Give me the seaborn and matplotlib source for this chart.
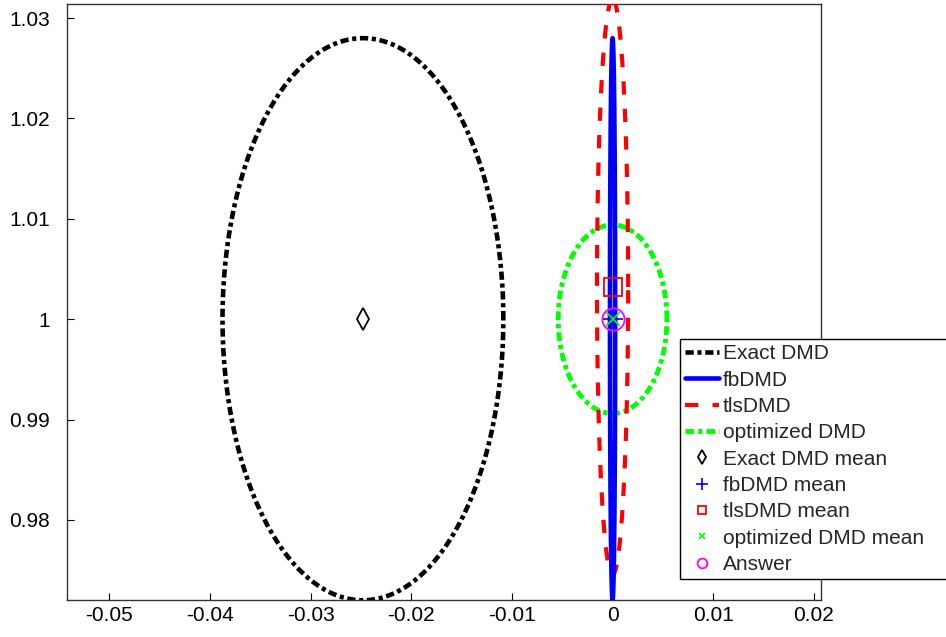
import numpy as np
import matplotlib
matplotlib.use("Agg")
import matplotlib.pyplot as plt
import seaborn as sns
import pandas as pd
from matplotlib.lines import Line2D

sns.set_theme(style="white")
plt.rcParams['font.family'] = ['Liberation Sans', 'DejaVu Sans']

# ---- data ----
methods = ["Exact DMD", "fbDMD", "tlsDMD", "optimized DMD"]
center_x = [-0.0248, 0.0, 0.0, 0.0]
center_y = [1.0, 1.0, 1.0032, 1.0]
semi_x = [0.01395, 0.00026, 0.00155, 0.0054]
semi_y = [0.028, 0.028, 0.0287, 0.0094]
colors = ["black", "blue", "red", "#00ff00"]

mean_labels = ["Exact DMD mean", "fbDMD mean", "tlsDMD mean", "optimized DMD mean", "Answer"]
mean_x = [-0.0248, 0.0, 0.0, 0.0, 0.0]
mean_y = [1.0, 1.0, 1.0032, 1.0, 1.0]
mean_colors = ["black", "blue", "red", "#00ff00", "magenta"]
mean_markers = ["d", "+", "s", "x", "o"]

x_ticks = [-0.05, -0.04, -0.03, -0.02, -0.01, 0, 0.01, 0.02]
x_ticklabels = ["-0.05", "-0.04", "-0.03", "-0.02", "-0.01", "0", "0.01", "0.02"]
y_ticks = [0.98, 0.99, 1.0, 1.01, 1.02, 1.03]
y_ticklabels = ["0.98", "0.99", "1", "1.01", "1.02", "1.03"]

# ---- styles ----
line_styles = [(0, (1.8, 0.8, 0.9, 0.8)), "-", (0, (3.2, 3.4)), (0, (1.8, 0.8, 0.9, 0.8))]
line_widths = [3.3, 3.3, 3.0, 3.5]
marker_sizes = [11, 15, 13, 10, 16]
legend_marker_sizes = [7, 8, 6, 5, 7]

fig = plt.figure(figsize=(9.46, 6.37), dpi=100)
ax = fig.add_axes([0.0708, 0.058, 0.797, 0.9357])

t = np.linspace(0, 2 * np.pi, 721)
zorders = [2, 4, 3, 2]
for i, m in enumerate(methods):
    df = pd.DataFrame({"x": center_x[i] + semi_x[i] * np.cos(t),
                       "y": center_y[i] + semi_y[i] * np.sin(t)})
    sns.lineplot(data=df, x="x", y="y", sort=False, estimator=None, ax=ax,
                 color=colors[i], linestyle=line_styles[i], lw=line_widths[i],
                 zorder=zorders[i])

for i, lab in enumerate(mean_labels):
    mk = mean_markers[i]
    if mk in ("+", "x"):
        ax.plot([mean_x[i]], [mean_y[i]], marker=mk, ms=marker_sizes[i], mew=1.2,
                color=mean_colors[i], ls="none", zorder=10)
    else:
        ax.plot([mean_x[i]], [mean_y[i]], marker=mk, ms=marker_sizes[i], mew=1.3,
                mfc="none", mec=mean_colors[i], ls="none", zorder=10)

ax.set_xlim(-0.0542, 0.0207)
ax.set_ylim(0.97202, 1.0314)
ax.set_xticks(x_ticks)
ax.set_xticklabels(x_ticklabels)
ax.set_yticks(y_ticks)
ax.set_yticklabels(y_ticklabels)
ax.set_xlabel("")
ax.set_ylabel("")
ax.tick_params(direction="in", length=5, width=0.8, labelsize=15, colors="black",
               left=True, bottom=True)
ax.tick_params(axis="y", pad=12)
ax.tick_params(axis="x", pad=4)
for s in ax.spines.values():
    s.set_color("#333333")
    s.set_linewidth(1.0)

handles = []
for i, m in enumerate(methods):
    handles.append(Line2D([], [], color=colors[i], ls=line_styles[i], lw=line_widths[i], label=m))
for i, lab in enumerate(mean_labels):
    mk = mean_markers[i]
    if mk in ("+", "x"):
        handles.append(Line2D([], [], marker=mk, ms=legend_marker_sizes[i], mew=1.2,
                              color=mean_colors[i], ls="none", label=lab))
    else:
        handles.append(Line2D([], [], marker=mk, ms=legend_marker_sizes[i], mew=1.3,
                              mfc="none", mec=mean_colors[i], ls="none", label=lab))

leg = ax.legend(handles=handles, loc="lower left", bbox_to_anchor=(0.719, 0.091, 0.29, 0.374),
                mode="expand",
                bbox_transform=fig.transFigure, fontsize=15, frameon=True, fancybox=False,
                edgecolor="black", framealpha=1, borderpad=0.25, labelspacing=0.35,
                handlelength=1.6, handletextpad=0.2, borderaxespad=0)
leg.get_frame().set_linewidth(1.0)

fig.savefig("out.png", dpi=100)
